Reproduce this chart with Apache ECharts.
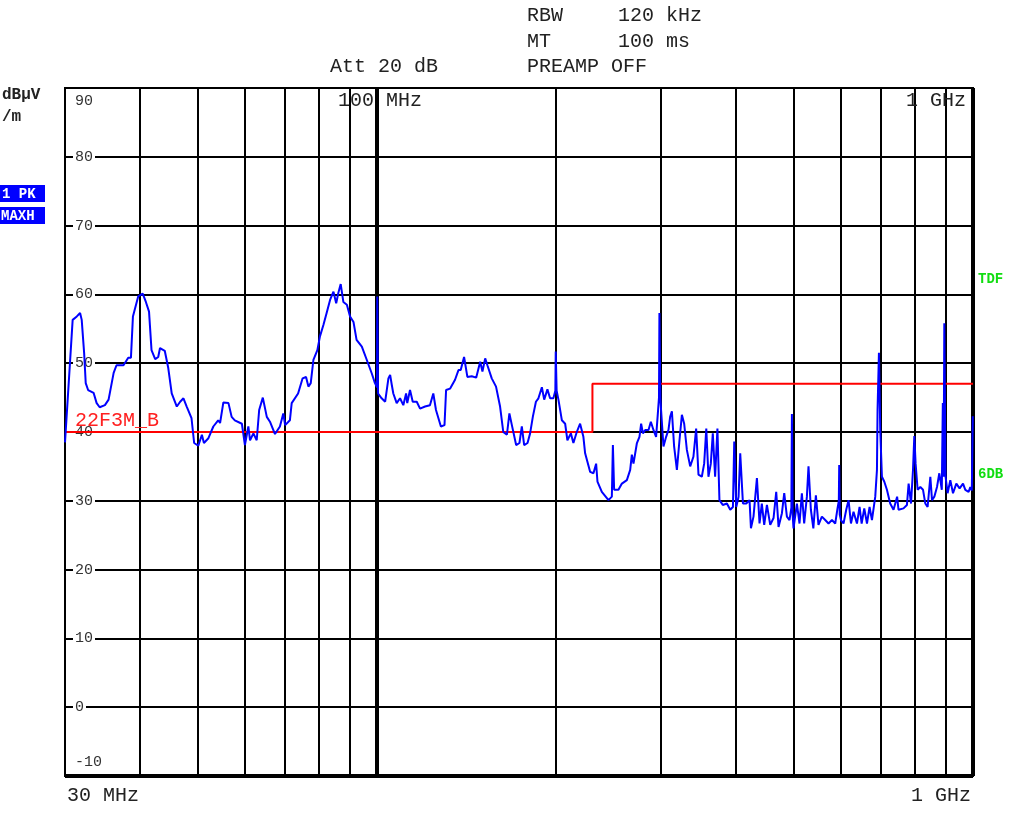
<!DOCTYPE html>
<html>
<head>
<meta charset="utf-8">
<title>EMI scan 30 MHz - 1 GHz</title>
<script src="https://cdn.jsdelivr.net/npm/echarts@6/dist/echarts.min.js"></script>
<style>
  html, body { margin: 0; padding: 0; background: #fff; }
  #chart { width: 1024px; height: 821px; }
</style>
</head>
<body>
<div id="chart"></div>
<script>
// measured trace (MAXH peak), frequency in MHz / level in dBuV/m
var traceFreq = [
  30.0, 30.9, 31.4, 31.8, 32.0, 32.3, 32.5, 32.8, 33.5, 33.9, 34.3, 35.0, 35.5, 36.2, 36.6, 37.6, 38.3, 38.7, 39.0, 39.8,
  40.5, 41.0, 41.5, 41.9, 42.5, 43.0, 43.3, 44.1, 44.7, 45.3, 46.2, 46.8, 47.4, 48.0, 48.9, 49.4, 50.2, 50.9, 51.3, 52.2,
  53.2, 54.2, 54.6, 55.3, 56.4, 57.1, 57.8, 59.4, 60.1, 60.9, 61.3, 62.1, 62.9, 63.5, 64.4, 65.4, 66.2, 67.5, 68.8, 69.7,
  70.2, 71.5, 72.0, 73.8, 75.1, 76.1, 76.8, 77.5, 78.3, 79.5, 80.3, 81.4, 82.4, 83.5, 84.6, 85.5, 86.2, 87.0, 87.9, 89.1,
  90.2, 91.4, 92.5, 94.4, 96.2, 98.1, 99.3, 100.1, 100.2, 100.5, 101.9, 103.3, 104.6, 105.3, 106.0, 106.6, 108.0, 109.4, 110.8, 112.0,
  112.5, 113.7, 114.9, 116.7, 118.2, 120.5, 122.8, 124.4, 125.7, 128.1, 129.9, 130.7, 132.7, 135.3, 137.1, 138.3, 140.1, 141.9, 144.3, 146.8,
  149.1, 150.4, 152.0, 153.3, 155.9, 158.5, 161.0, 163.0, 165.3, 166.9, 168.5, 171.3, 173.5, 175.1, 176.7, 179.0, 180.8, 182.7, 184.9, 186.7,
  189.2, 190.9, 193.3, 195.3, 197.8, 199.3, 199.6, 200.3, 201.7, 204.4, 207.0, 208.8, 211.6, 213.7, 216.5, 219.3, 222.1, 223.6, 228.0, 230.9,
  233.3, 234.5, 238.5, 244.7, 247.9, 248.9, 250.1, 254.3, 257.7, 262.7, 266.1, 267.8, 269.5, 273.1, 275.8, 277.6, 279.5, 282.0, 285.6, 288.2,
  291.1, 294.1, 296.1, 297.4, 297.9, 299.0, 299.9, 302.6, 305.7, 308.5, 310.5, 312.6, 315.3, 318.7, 321.9, 324.9, 327.8, 331.2, 335.5, 339.7,
  343.3, 346.4, 350.9, 354.1, 357.0, 360.0, 363.3, 366.1, 369.4, 372.7, 375.6, 380.5, 386.6, 391.6, 395.7, 397.7, 400.8, 404.4, 407.0, 411.3,
  416.6, 421.9, 424.2, 428.4, 434.1, 438.5, 442.4, 446.5, 451.2, 457.0, 462.9, 467.7, 471.9, 478.1, 482.4, 487.4, 492.3, 495.9, 496.9, 498.3,
  500.0, 506.6, 511.7, 516.4, 521.0, 526.5, 529.8, 534.7, 539.8, 545.1, 550.6, 557.9, 565.1, 572.4, 580.0, 587.4, 592.6, 595.6, 596.5, 597.7,
  600.5, 606.5, 612.9, 618.4, 624.2, 630.4, 638.8, 645.3, 650.5, 657.1, 664.0, 670.7, 676.9, 685.6, 690.1, 691.7, 695.4, 698.9, 703.5, 709.8,
  717.2, 726.3, 735.7, 746.0, 750.0, 764.6, 774.8, 779.9, 787.1, 793.2, 797.2, 801.2, 807.5, 815.9, 824.5, 831.8, 839.2, 848.1, 853.6, 861.3,
  870.2, 878.0, 886.5, 890.0, 892.7, 895.1, 899.4, 906.6, 916.1, 925.7, 937.6, 949.6, 962.2, 970.8, 983.2, 989.6, 995.4, 999.2
];
var traceLevel = [
  38.5, 56.3, 56.8, 57.3, 56.3, 51.5, 47.1, 46.1, 45.7, 44.2, 43.6, 43.9, 44.7, 48.6, 49.7, 49.7, 50.8, 50.8, 56.8, 59.7,
  60.1, 58.9, 57.5, 51.9, 50.6, 50.9, 52.2, 51.8, 49.3, 45.6, 43.7, 44.4, 44.9, 43.7, 42.0, 38.4, 38.0, 39.6, 38.4, 39.1,
  40.8, 41.7, 41.3, 44.3, 44.2, 42.2, 41.7, 41.2, 38.1, 40.8, 38.8, 39.8, 38.8, 43.2, 45.0, 42.2, 41.5, 39.7, 40.8, 42.7,
  41.0, 41.7, 44.2, 45.6, 47.8, 48.0, 46.6, 47.1, 50.5, 51.9, 53.9, 55.6, 57.3, 59.2, 60.4, 58.7, 60.2, 61.5, 58.9, 58.5,
  56.8, 56.0, 53.4, 52.4, 50.5, 48.5, 47.1, 46.5, 59.7, 45.6, 44.9, 44.4, 47.8, 48.3, 46.8, 45.6, 44.2, 44.9, 43.9, 45.6,
  44.2, 46.1, 44.4, 44.4, 43.4, 43.7, 43.9, 45.6, 43.2, 40.8, 41.0, 46.1, 46.3, 47.6, 49.0, 49.0, 50.9, 48.0, 48.1, 47.9,
  50.2, 48.8, 50.7, 49.7, 47.8, 46.6, 43.7, 40.0, 39.6, 42.7, 41.0, 38.1, 38.4, 40.8, 38.1, 38.4, 39.8, 42.2, 44.4, 44.9,
  46.5, 44.7, 46.2, 44.9, 44.9, 46.0, 51.7, 46.0, 44.7, 41.7, 41.2, 38.8, 39.8, 38.4, 40.0, 41.2, 39.3, 36.9, 34.2, 34.0,
  35.4, 32.8, 31.3, 30.1, 30.6, 38.1, 31.6, 31.6, 32.5, 33.0, 34.5, 36.7, 35.4, 38.4, 39.3, 41.2, 39.8, 40.3, 40.3, 41.5,
  40.3, 39.3, 42.7, 45.0, 57.3, 45.0, 43.0, 37.9, 39.3, 40.3, 42.2, 43.0, 37.9, 34.5, 38.8, 42.5, 41.2, 37.4, 35.0, 36.4,
  40.5, 33.8, 33.5, 35.4, 40.5, 33.5, 35.4, 39.8, 33.5, 40.5, 30.1, 29.4, 29.6, 28.7, 29.1, 38.6, 29.1, 30.6, 36.9, 29.6,
  29.6, 30.1, 26.0, 27.7, 33.3, 26.7, 29.6, 26.5, 29.4, 26.5, 27.5, 31.3, 26.2, 28.2, 31.1, 27.7, 27.2, 29.0, 42.6, 28.0,
  26.0, 29.6, 26.7, 31.1, 26.7, 30.6, 35.0, 28.7, 26.0, 30.8, 26.5, 27.7, 27.2, 26.7, 27.2, 26.7, 28.9, 30.0, 35.2, 28.0,
  27.2, 26.7, 28.7, 30.1, 26.7, 28.4, 26.7, 29.1, 26.7, 28.9, 26.7, 29.1, 27.2, 30.6, 34.5, 43.2, 51.5, 40.3, 33.5, 32.8,
  31.6, 29.6, 28.7, 30.6, 28.7, 28.9, 29.4, 32.5, 29.6, 34.5, 39.4, 35.4, 31.6, 32.0, 31.6, 29.6, 29.1, 33.5, 30.1, 30.6,
  32.0, 34.0, 31.6, 44.2, 33.5, 55.8, 33.5, 31.1, 33.0, 31.1, 32.5, 31.8, 32.5, 31.6, 31.3, 32.0, 31.5, 42.3
];

// limit line 22F3M_B
var limitFreq = [30, 230, 230, 1000];
var limitLevel = [40, 40, 47, 47];

// vertical grid (MHz) and level axis
var gridFreq = [40, 50, 60, 70, 80, 90, 200, 300, 400, 500, 600, 700, 800, 900];
var decadeFreq = [100];
var levelMin = -10;
var levelMax = 90;
var levelStep = 10;

var mono = "'Liberation Mono', 'DejaVu Sans Mono', monospace";

var chart = echarts.init(document.getElementById('chart'));

function pairs(xs, ys) {
  return xs.map(function (x, i) { return [x, ys[i]]; });
}

var gridLines = gridFreq.map(function (f) {
  return { xAxis: f, lineStyle: { width: 2 } };
});
decadeFreq.forEach(function (f) {
  gridLines.push({ xAxis: f, lineStyle: { width: 4 } });
});
// heavier right / bottom frame
gridLines.push({ xAxis: 1000, lineStyle: { width: 4 } });
gridLines.push({ yAxis: levelMin, lineStyle: { width: 4 } });

function txt(x, y, text, opts) {
  opts = opts || {};
  return {
    type: 'text',
    x: x,
    y: y,
    z: 100,
    style: {
      text: text,
      font: (opts.bold ? 'bold ' : '') + (opts.size || 20) + 'px ' + mono,
      fill: opts.color || '#222',
      align: opts.align || 'left',
      verticalAlign: 'middle'
    }
  };
}

const option = {
  animation: false,
  backgroundColor: '#fff',
  grid: {
    left: 65,
    right: 51,
    top: 88,
    bottom: 45,
    show: true,
    borderColor: '#000',
    borderWidth: 2
  },
  xAxis: {
    type: 'log',
    logBase: 10,
    min: 30,
    max: 1000,
    axisLine: { show: false },
    axisTick: { show: false },
    axisLabel: { show: false },
    splitLine: { show: false }
  },
  yAxis: {
    type: 'value',
    min: levelMin,
    max: levelMax,
    interval: levelStep,
    axisLine: { show: false },
    axisTick: { show: false },
    splitLine: { lineStyle: { color: '#000', width: 2 } },
    axisLabel: {
      inside: true,
      margin: 8,
      color: '#333',
      fontFamily: mono,
      fontSize: 15,
      verticalAlignMinLabel: 'bottom',
      verticalAlignMaxLabel: 'top',
      formatter: function (v) {
        if (v === levelMax) return '{top|' + v + '}';
        if (v === levelMin) return '{bot|' + v + '}';
        return '{n|' + v + '}';
      },
      rich: {
        n: { backgroundColor: '#fff', padding: [1, 2, 1, 2], fontFamily: mono, fontSize: 15, color: '#333' },
        top: { padding: [6, 2, 0, 2], fontFamily: mono, fontSize: 15, color: '#333' },
        bot: { padding: [0, 2, 6, 2], fontFamily: mono, fontSize: 15, color: '#333' }
      }
    }
  },
  series: [
    {
      name: 'grid',
      type: 'line',
      data: [],
      z: 1,
      silent: true,
      markLine: {
        z: 1,
        silent: true,
        symbol: 'none',
        label: { show: false },
        lineStyle: { color: '#000', type: 'solid', width: 2 },
        data: gridLines
      }
    },
    {
      name: '22F3M_B',
      type: 'line',
      data: pairs(limitFreq, limitLevel),
      z: 3,
      showSymbol: false,
      lineStyle: { color: '#ff0000', width: 2 }
    },
    {
      name: '1 PK MAXH',
      type: 'line',
      data: pairs(traceFreq, traceLevel),
      z: 4,
      showSymbol: false,
      lineStyle: { color: '#0000ff', width: 2 }
    }
  ],
  graphic: [
    txt(527, 16, 'RBW'),
    txt(618, 16, '120 kHz'),
    txt(527, 42, 'MT'),
    txt(618, 42, '100 ms'),
    txt(330, 67, 'Att 20 dB'),
    txt(527, 67, 'PREAMP OFF'),
    txt(2, 95, 'dBµV', { bold: true, size: 16 }),
    txt(2, 117, '/m', { bold: true, size: 16 }),
    { type: 'rect', shape: { x: 0, y: 185, width: 45, height: 17 }, style: { fill: '#0000ff' }, z: 99 },
    { type: 'rect', shape: { x: 0, y: 207, width: 45, height: 17 }, style: { fill: '#0000ff' }, z: 99 },
    txt(2, 194, '1 PK', { bold: true, size: 14, color: '#fff' }),
    txt(1, 216, 'MAXH', { bold: true, size: 14, color: '#fff' }),
    txt(380, 101, '100 MHz', { align: 'center' }),
    txt(966, 101, '1 GHz', { align: 'right' }),
    txt(67, 796, '30 MHz'),
    txt(971, 796, '1 GHz', { align: 'right' }),
    txt(978, 279, 'TDF', { bold: true, size: 14, color: '#11dd11' }),
    txt(978, 474, '6DB', { bold: true, size: 14, color: '#11dd11' }),
    txt(75, 421, '22F3M_B', { color: '#ff2020' })
  ]
};

chart.setOption(option);
</script>
</body>
</html>
